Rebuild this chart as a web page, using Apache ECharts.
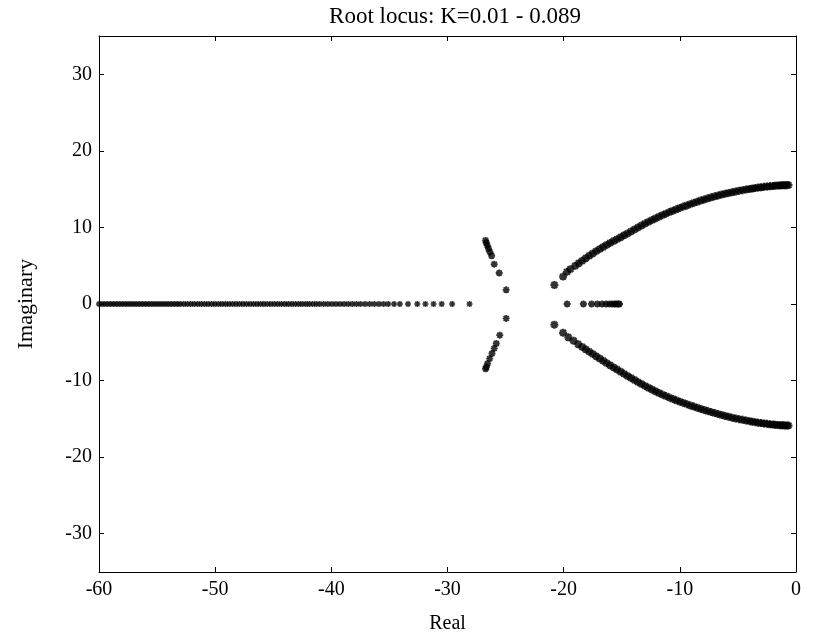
<!DOCTYPE html>
<html>
<head>
<meta charset="utf-8">
<title>Root locus</title>
<script src="https://cdn.jsdelivr.net/npm/echarts@6/dist/echarts.min.js"></script>
<style>
  html, body { margin: 0; padding: 0; background: #fff; }
  #chart { width: 833px; height: 644px; }
</style>
</head>
<body>
<div id="chart"></div>
<script>
// Root locus samples for K = 0.01 ... 0.089, pole positions [Re, Im]
const titleText = 'Root locus: K=0.01 - 0.089';
const xTickValues = [-60, -50, -40, -30, -20, -10, 0];
const yTickValues = [-30, -20, -10, 0, 10, 20, 30];

// poles travelling right along the negative real axis
const realAxisLeftRe = [
  -60.0, -59.75, -59.5, -59.25, -59.0, -58.75, -58.5, -58.25, -58.0, -57.75,
  -57.5, -57.25, -57.0, -56.75, -56.5, -56.25, -56.0, -55.75, -55.5, -55.25,
  -55.0, -54.75, -54.5, -54.25, -54.0, -53.75, -53.5, -53.25, -53.0, -52.7,
  -52.4, -52.1, -51.8, -51.5, -51.2, -50.9, -50.6, -50.3, -50.0, -49.7,
  -49.4, -49.1, -48.8, -48.5, -48.2, -47.9, -47.6, -47.3, -47.0, -46.7,
  -46.4, -46.1, -45.8, -45.5, -45.2, -44.9, -44.6, -44.3, -44.0, -43.7,
  -43.4, -43.1, -42.8, -42.5, -42.2, -41.9, -41.6, -41.3, -41.0, -40.65,
  -40.3, -39.95, -39.6, -39.25, -38.9, -38.55, -38.2, -37.85, -37.5, -37.1,
  -36.7, -36.3, -35.9, -35.5, -35.1, -34.6, -34.1, -33.4, -32.6, -31.9,
  -31.2, -30.5, -29.6, -28.1
];

// poles on the real axis between the two branch groups
const realAxisRightRe = [-19.7, -18.3, -17.6, -17.1, -16.7, -16.35, -16.05, -15.8, -15.6, -15.45, -15.3, -15.2];

// complex pair moving toward the real axis near Re = -25
const pairUpper = [
  [-26.72, 8.3], [-26.66, 8.0], [-26.58, 7.65], [-26.47, 7.25], [-26.35, 6.8],
  [-26.2, 6.3], [-25.98, 5.2], [-25.55, 4.05], [-24.95, 1.85]
];
const pairLower = [
  [-24.95, -1.88], [-25.5, -4.07], [-25.8, -5.16], [-25.98, -5.8], [-26.17, -6.47],
  [-26.37, -7.13], [-26.55, -7.78], [-26.66, -8.23], [-26.72, -8.45]
];

// dominant pair heading toward the imaginary axis
const arcUpper = [
  [-20.8, 2.49],
  [-20.05, 3.58], [-19.71, 4.2], [-19.42, 4.55], [-19.0, 5.0], [-18.7, 5.33],
  [-18.4, 5.65], [-18.1, 5.98], [-17.8, 6.3], [-17.5, 6.6], [-17.2, 6.9],
  [-16.9, 7.17], [-16.6, 7.45], [-16.3, 7.72], [-16.0, 7.98], [-15.7, 8.22],
  [-15.4, 8.47], [-15.1, 8.72], [-14.8, 8.98], [-14.5, 9.22], [-14.2, 9.48],
  [-13.9, 9.74], [-13.6, 10.0], [-13.3, 10.25], [-13.0, 10.5], [-12.7, 10.73],
  [-12.4, 10.96], [-12.1, 11.18], [-11.8, 11.4], [-11.5, 11.6], [-11.2, 11.8],
  [-10.9, 12.0], [-10.6, 12.18], [-10.3, 12.36], [-10.0, 12.55], [-9.7, 12.72],
  [-9.4, 12.88], [-9.1, 13.04], [-8.8, 13.2], [-8.5, 13.36], [-8.2, 13.52],
  [-7.9, 13.66], [-7.6, 13.8], [-7.3, 13.93], [-7.0, 14.06], [-6.7, 14.18],
  [-6.4, 14.3], [-6.1, 14.4], [-5.8, 14.5], [-5.5, 14.6], [-5.2, 14.7],
  [-4.9, 14.79], [-4.6, 14.87], [-4.3, 14.95], [-4.0, 15.02], [-3.75, 15.08],
  [-3.5, 15.14], [-3.25, 15.2], [-3.0, 15.25], [-2.75, 15.3], [-2.5, 15.34],
  [-2.25, 15.38], [-2.0, 15.42], [-1.8, 15.45], [-1.6, 15.47], [-1.4, 15.49],
  [-1.25, 15.5], [-1.1, 15.51], [-0.95, 15.52], [-0.8, 15.52], [-0.65, 15.53]
];
const arcLower = [
  [-20.8, -2.7],
  [-20.05, -3.76], [-19.6, -4.35], [-19.15, -4.8], [-18.75, -5.25], [-18.4, -5.62],
  [-18.1, -5.92], [-17.8, -6.22], [-17.5, -6.52], [-17.2, -6.82], [-16.9, -7.12],
  [-16.6, -7.42], [-16.3, -7.72], [-16.0, -8.0], [-15.7, -8.28], [-15.4, -8.56],
  [-15.1, -8.84], [-14.8, -9.12], [-14.5, -9.4], [-14.2, -9.67], [-13.9, -9.93],
  [-13.6, -10.2], [-13.3, -10.45], [-13.0, -10.7], [-12.7, -10.94], [-12.4, -11.17],
  [-12.1, -11.4], [-11.8, -11.62], [-11.5, -11.83], [-11.2, -12.03], [-10.9, -12.22],
  [-10.6, -12.4], [-10.3, -12.58], [-10.0, -12.75], [-9.7, -12.92], [-9.4, -13.08],
  [-9.1, -13.24], [-8.8, -13.4], [-8.5, -13.55], [-8.2, -13.7], [-7.9, -13.85],
  [-7.6, -13.99], [-7.3, -14.12], [-7.0, -14.25], [-6.7, -14.38], [-6.4, -14.5],
  [-6.1, -14.62], [-5.8, -14.73], [-5.5, -14.84], [-5.2, -14.94], [-4.9, -15.04],
  [-4.6, -15.13], [-4.3, -15.22], [-4.0, -15.3], [-3.75, -15.37], [-3.5, -15.43],
  [-3.25, -15.5], [-3.0, -15.55], [-2.75, -15.6], [-2.5, -15.65], [-2.25, -15.7],
  [-2.0, -15.74], [-1.8, -15.77], [-1.6, -15.8], [-1.4, -15.82], [-1.25, -15.84],
  [-1.1, -15.85], [-0.95, -15.86], [-0.8, -15.87], [-0.65, -15.88]
];

const FONT = 'Liberation Serif';
const INK = '#000';
// eight-armed asterisk marker, stroked only
const ASTERISK = 'path://M0,-5L0,5M-5,0L5,0M-3.6,-3.6L3.6,3.6M-3.6,3.6L3.6,-3.6';

function onRealAxis(reList) {
  return reList.map(function (re) { return [re, 0]; });
}

function starSeries(name, data, size, stroke) {
  return {
    name: name,
    type: 'scatter',
    data: data,
    symbol: ASTERISK,
    symbolSize: size,
    silent: true,
    itemStyle: { color: 'rgba(0,0,0,0)', borderColor: INK, borderWidth: stroke }
  };
}

function boxXAxis(pos, main) {
  return {
    type: 'value', min: -60, max: 0, position: pos,
    axisLine: { show: true, onZero: false, lineStyle: { color: INK, width: 1 } },
    axisTick: { show: true, inside: true, length: 5, customValues: xTickValues, lineStyle: { color: INK, width: 1 } },
    axisLabel: main
      ? { show: true, customValues: xTickValues, margin: 8, fontFamily: FONT, fontSize: 20, color: INK }
      : { show: false },
    splitLine: { show: false },
    name: main ? 'Real' : '',
    nameLocation: 'middle', nameGap: 42,
    nameTextStyle: { fontFamily: FONT, fontSize: 20, color: INK }
  };
}

function boxYAxis(pos, main) {
  return {
    type: 'value', min: -35, max: 35, position: pos,
    axisLine: { show: true, onZero: false, lineStyle: { color: INK, width: 1 } },
    axisTick: { show: true, inside: true, length: 5, customValues: yTickValues, lineStyle: { color: INK, width: 1 } },
    axisLabel: main
      ? { show: true, customValues: yTickValues, margin: 7, fontFamily: FONT, fontSize: 20, color: INK }
      : { show: false },
    splitLine: { show: false },
    name: main ? 'Imaginary' : '',
    nameLocation: 'middle', nameGap: 62, nameRotate: 90,
    nameTextStyle: { fontFamily: FONT, fontSize: 22, color: INK }
  };
}

const chart = echarts.init(document.getElementById('chart'), null, { renderer: 'canvas' });
chart.setOption({
  animation: false,
  backgroundColor: '#fff',
  title: {
    text: titleText, left: 450, top: 0, textAlign: 'center',
    textStyle: { fontFamily: FONT, fontSize: 23, fontWeight: 'normal', color: INK }
  },
  grid: { left: 99, right: 37, top: 36, bottom: 72, containLabel: false },
  xAxis: [boxXAxis('bottom', true), boxXAxis('top', false)],
  yAxis: [boxYAxis('left', true), boxYAxis('right', false)],
  series: [
    starSeries('realLeft', onRealAxis(realAxisLeftRe), 6, 1.5),
    starSeries('realRight', onRealAxis(realAxisRightRe), 7, 1.9),
    starSeries('pairUpper', pairUpper, 7, 1.9),
    starSeries('pairLower', pairLower, 7, 1.9),
    starSeries('arcUpper', arcUpper, 8, 2.3),
    starSeries('arcLower', arcLower, 8, 2.3)
  ]
});
</script>
</body>
</html>
